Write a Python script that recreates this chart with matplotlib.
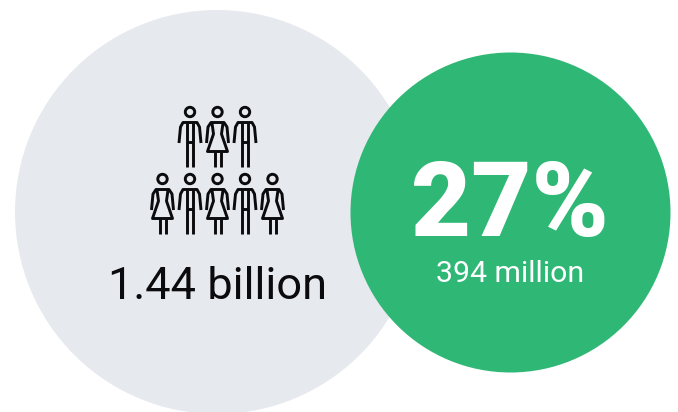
#!/usr/bin/env python
import matplotlib
matplotlib.use('Agg')
import matplotlib.pyplot as plt
from matplotlib.patches import Circle

total_label = '1.44 billion'
share_label = '27%'
share_count_label = '394 million'
people_rows = [['man', 'woman', 'man'],
               ['woman', 'man', 'woman', 'man', 'woman']]

GREY = '#e6e9ee'
GREEN = '#2fb775'
INK = '#0b0b0d'
LW = 2.1

fig = plt.figure(figsize=(6.78, 4.12), dpi=100)
ax = fig.add_axes([0, 0, 1, 1])
ax.set_xlim(0, 678)
ax.set_ylim(412, 0)
ax.axis('off')

ax.add_patch(Circle((217, 212), 202, fc=GREY, ec='none', zorder=1))
ax.add_patch(Circle((510.5, 212.5), 160, fc=GREEN, ec='none', zorder=2))


def line(xs, ys):
    ax.plot(xs, ys, color=INK, lw=LW, solid_capstyle='butt', solid_joinstyle='round', zorder=3)


# little stick figure, y0 is the middle of the head
def person(cx, y0, kind):
    ax.add_patch(Circle((cx, y0), 4.7, fc='none', ec=INK, lw=LW, zorder=3))
    if kind == 'man':
        line([cx - 11, cx - 9.5, cx - 7, cx + 7, cx + 9.5, cx + 11],
             [y0 + 31, y0 + 15, y0 + 10.5, y0 + 10.5, y0 + 15, y0 + 31])
        line([cx - 3, cx - 3], [y0 + 11, y0 + 55])
        line([cx + 3, cx + 3], [y0 + 11, y0 + 55])
        line([cx - 3, cx + 3], [y0 + 30, y0 + 30])
    else:
        line([cx - 11, cx - 9.5, cx - 6.5, cx + 6.5, cx + 9.5, cx + 11],
             [y0 + 31, y0 + 15, y0 + 10.5, y0 + 10.5, y0 + 15, y0 + 31])
        line([cx - 5.5, cx - 4, cx - 10, cx + 10, cx + 4, cx + 5.5],
             [y0 + 11, y0 + 22, y0 + 39.5, y0 + 39.5, y0 + 22, y0 + 11])
        line([cx - 3, cx - 3], [y0 + 40, y0 + 55])
        line([cx + 3, cx + 3], [y0 + 40, y0 + 55])


row_y = [112, 179]
for row, y0 in zip(people_rows, row_y):
    start = 217.5 - 27.5 * (len(row) - 1) / 2
    for i, kind in enumerate(row):
        person(start + 27.5 * i, y0, kind)

ax.text(217.5, 287, total_label, fontsize=32.5, family='Roboto', color=INK,
        ha='center', va='center', zorder=4)
ax.text(510, 207, share_label, fontsize=75, family='Roboto', weight='black', color='white',
        ha='center', va='center', zorder=4)
ax.text(510.5, 274, share_count_label, fontsize=21.8, family='Roboto', color='white',
        ha='center', va='center', zorder=4)

fig.savefig('out.png', dpi=100)
